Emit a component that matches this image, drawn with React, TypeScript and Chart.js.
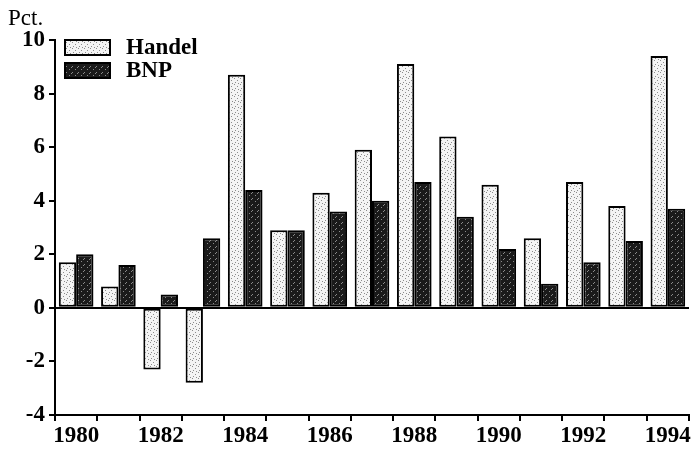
import React, { useEffect, useRef } from 'react';
import { Chart, registerables } from 'chart.js';

Chart.register(...registerables);

const years = ['1980', '1981', '1982', '1983', '1984', '1985', '1986', '1987', '1988', '1989', '1990', '1991', '1992', '1993', '1994'];
const handel = [1.7, 0.8, -2.3, -2.8, 8.7, 2.9, 4.3, 5.9, 9.1, 6.4, 4.6, 2.6, 4.7, 3.8, 9.4];
const bnp = [2.0, 1.6, 0.5, 2.6, 4.4, 2.9, 3.6, 4.0, 4.7, 3.4, 2.2, 0.9, 1.7, 2.5, 3.7];
const seriesNames = ['Handel', 'BNP'];
const yMin = -4;
const yMax = 10;
const yStep = 2;
const unitLabel = 'Pct.';

const FONT = "'Liberation Serif', 'DejaVu Serif', serif";
const FSIZE = 23;

function makePattern(bg: string, dot: string, dots: number[][], size: number): CanvasPattern | string {
  const c = document.createElement('canvas');
  c.width = size;
  c.height = size;
  const g = c.getContext('2d');
  if (!g) return bg;
  g.fillStyle = bg;
  g.fillRect(0, 0, size, size);
  g.fillStyle = dot;
  dots.forEach(([x, y]) => g.fillRect(x, y, 1, 1));
  const p = g.createPattern(c, 'repeat');
  return p || bg;
}

export default function App() {
  const ref = useRef<HTMLCanvasElement | null>(null);

  useEffect(() => {
    if (!ref.current) return;
    const lightFill = makePattern('#f4f4f4', '#8c8c8c', [[0, 0], [3, 2], [1, 4], [4, 5]], 6);
    const darkFill = makePattern('#1a1a1a', '#8a8a8a', [[0, 0], [3, 3], [5, 1]], 6);
    const fills = [lightFill, darkFill];

    const legendPlugin = {
      id: 'customLegend',
      afterDraw(chart: any) {
        const ctx = chart.ctx;
        ctx.save();
        ctx.fillStyle = '#000';
        ctx.font = `${FSIZE}px ${FONT}`;
        ctx.textBaseline = 'alphabetic';
        ctx.textAlign = 'left';
        ctx.fillText(unitLabel, 8, 25);
        const left = chart.chartArea.left + 10;
        const top = chart.chartArea.top;
        seriesNames.forEach((name, i) => {
          const y = top + i * 23;
          ctx.fillStyle = fills[i];
          ctx.fillRect(left, y, 45, 15);
          ctx.strokeStyle = '#000';
          ctx.lineWidth = 2;
          ctx.strokeRect(left, y, 45, 15);
          ctx.fillStyle = '#000';
          ctx.font = `bold ${FSIZE}px ${FONT}`;
          ctx.textBaseline = 'middle';
          ctx.fillText(name, left + 61, y + 8);
        });
        ctx.restore();
      },
    };

    const chart = new Chart(ref.current, {
      type: 'bar',
      data: {
        labels: years,
        datasets: [
          {
            label: seriesNames[0],
            data: handel,
            backgroundColor: lightFill as any,
            borderColor: '#000',
            borderWidth: 2,
            borderSkipped: false,
          },
          {
            label: seriesNames[1],
            data: bnp,
            backgroundColor: darkFill as any,
            borderColor: '#000',
            borderWidth: 2,
            borderSkipped: false,
          },
        ],
      },
      options: {
        animation: false,
        responsive: false,
        devicePixelRatio: 1,
        layout: { padding: { top: 40, right: 10, bottom: 0, left: 0 } },
        datasets: { bar: { categoryPercentage: 0.82, barPercentage: 1.0 } },
        plugins: {
          legend: { display: false },
          tooltip: { enabled: false },
        },
        scales: {
          x: {
            offset: true,
            grid: {
              display: true,
              offset: true,
              drawOnChartArea: false,
              color: '#000',
              tickColor: '#000',
              tickLength: 6,
              lineWidth: 2,
            },
            border: { display: true, color: '#000', width: 2 },
            ticks: {
              autoSkip: false,
              maxRotation: 0,
              minRotation: 0,
              color: '#000',
              padding: 1,
              font: { family: FONT, size: FSIZE, weight: 'bold' },
              callback: (_v: any, i: number) => (i % 2 === 0 ? years[i] : ''),
            },
            afterFit: (s: any) => {
              s.height = 35;
            },
          },
          y: {
            min: yMin,
            max: yMax,
            ticks: {
              stepSize: yStep,
              color: '#000',
              padding: 4,
              font: { family: FONT, size: FSIZE, weight: 'bold' },
            },
            grid: {
              color: (c: any) => (c.tick && c.tick.value === 0 ? '#000' : 'rgba(0,0,0,0)'),
              lineWidth: 2,
              tickColor: '#000',
              tickWidth: 2,
              tickLength: 6,
            },
            border: { display: true, color: '#000', width: 2 },
            afterFit: (s: any) => {
              s.width = 55;
            },
          },
        },
      },
      plugins: [legendPlugin],
    });
    return () => chart.destroy();
  }, []);

  return (
    <div style={{ position: 'absolute', left: 0, top: 0, width: 699, height: 450, background: '#fff' }}>
      <canvas ref={ref} width={699} height={450} />
    </div>
  );
}
